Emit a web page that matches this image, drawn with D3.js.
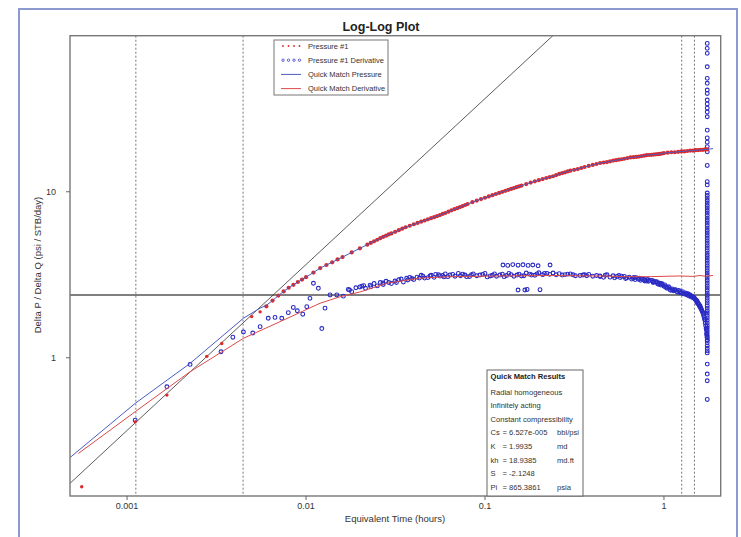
<!DOCTYPE html>
<html><head><meta charset="utf-8">
<script src="https://cdn.jsdelivr.net/npm/d3@7/dist/d3.min.js"></script>
<style>body{margin:0;background:#fff}svg{display:block}</style>
</head><body>
<svg id="c" width="741" height="537"></svg>
<script>
// ---------- data ----------
const xTicks = [0.001, 0.01, 0.1, 1];
const yTicks = [1, 10];
const xTickLabels = ["0.001", "0.01", "0.1", "1"];
const yTickLabels = ["1", "10"];
const xDomain = [0.00048, 2.075];
const yDomain = [0.147, 87.1];

// Pressure #1 (t hours, dP/dQ)
const pressure = [
  [0.000558,0.167],[0.00111,0.411],[0.00167,0.596],[0.00279,1.02],[0.00338,1.22],
  [0.00497,1.77],[0.00554,1.89],[0.006,2.04],[0.0065,2.21],[0.007,2.37],[0.0075,2.51],
  [0.008,2.64],[0.0085,2.75],[0.009,2.86],[0.0095,2.96],[0.010,3.06],[0.011,3.26],
  [0.012,3.47],[0.013,3.62],[0.014,3.76],[0.015,3.91],[0.016,4.04],[0.018,4.31],
  [0.020,4.56],[0.022,4.80],[0.024,5.03],[0.026,5.25],[0.028,5.44],[0.030,5.61],
  [0.033,5.87],[0.036,6.11],[0.040,6.37],[0.044,6.60],[0.048,6.82],[0.052,7.03],
  [0.056,7.24],[0.060,7.45],[0.065,7.73],[0.070,7.96],[0.075,8.20],[0.080,8.44],
  [0.090,8.85],[0.10,9.20],[0.11,9.53],[0.12,9.84],[0.13,10.13],[0.14,10.40],
  [0.15,10.65],[0.16,10.89],[0.18,11.35],[0.20,11.75],[0.22,12.1],[0.24,12.4],
  [0.26,12.8],[0.28,13.1],[0.30,13.4],[0.33,13.7],[0.36,14.1],[0.40,14.5],
  [0.44,14.9],[0.48,15.1],[0.52,15.4],[0.56,15.6],[0.60,15.8],[0.65,16.1],
  [0.70,16.2],[0.75,16.4],[0.80,16.6],[0.85,16.7],[0.90,16.8],[0.95,16.9],
  [1.0,17.1],[1.05,17.2],[1.1,17.3],[1.15,17.3],[1.2,17.4],[1.25,17.5],[1.3,17.5],
  [1.35,17.6],[1.4,17.7],[1.45,17.7],[1.5,17.8],[1.55,17.8],[1.6,17.9],[1.65,17.9],
  [1.7,18.0],[1.74,18.0]
];
const pressureMore = [
  [0.023,4.92],[0.025,5.14],[0.027,5.35],[0.029,5.53],[0.0315,5.74],[0.0345,5.99],
  [0.038,6.24],[0.042,6.49],[0.046,6.71],[0.050,6.93],[0.054,7.14],[0.058,7.35],
  [0.0625,7.59],[0.0675,7.85],[0.0725,8.08],[0.0775,8.32],[0.085,8.65],[0.095,9.03],
  [0.105,9.37],[0.115,9.69],[0.125,9.99],[0.135,10.27],[0.145,10.53],[0.155,10.77],
  [0.17,11.12],[0.19,11.55],[0.21,11.93],[0.23,12.25],[0.25,12.6],[0.27,12.95],
  [0.29,13.25],[0.315,13.55],[0.345,13.9],[0.38,14.3],[0.42,14.7],[0.46,15.0],
  [0.50,15.25],[0.54,15.5],[0.58,15.7],[0.625,15.95],[0.675,16.15],[0.725,16.3],
  [0.775,16.5],[0.825,16.65],[0.875,16.75],[0.925,16.85],[0.975,17.0]
];

// Pressure #1 Derivative
const derivative = [
  [0.00111,0.421],[0.00167,0.669],[0.00225,0.912],[0.00335,1.087],[0.0039,1.33],
  [0.00447,1.43],[0.00504,1.41],[0.00554,1.54],[0.00615,1.73],[0.00671,1.75],
  [0.00732,1.73],[0.00796,1.87],[0.00849,2.01],[0.00894,1.92],[0.00959,1.83],
  [0.0101,2.03],[0.01052,2.28],[0.011,2.81],[0.01172,2.62],[0.01225,1.50],
  [0.01277,1.99],[0.01362,2.39],[0.01485,2.39],[0.01616,2.35],[0.01723,2.58],
  [0.0175,2.56],[0.018,2.50],[0.019,2.64],[0.020,2.67],[0.021,2.72],[0.0215,2.62],
  [0.0228,2.74],[0.024,2.80],[0.025,2.71],[0.0269,2.82],[0.028,2.89],[0.030,2.80],
  [0.0314,2.90],[0.033,2.95],[0.035,2.86],[0.0365,3.01],[0.038,3.05],[0.040,2.96],
  [0.0417,3.06],[0.044,3.14],[0.046,3.02],[0.0493,3.11],[0.052,3.05],[0.053,3.18],
  [0.0561,3.11],[0.059,3.07],[0.060,3.20],[0.0637,3.15],[0.068,3.10],[0.071,3.22],
  [0.0773,3.15],[0.082,3.09],[0.086,3.20],[0.0937,3.15],[0.10,3.22],[0.103,3.07],
  [0.107,3.11],[0.113,3.20],[0.121,3.15],[0.128,3.08],[0.136,3.22],[0.145,3.10],
  [0.151,3.15],[0.165,3.12],[0.170,3.24],[0.178,3.19],[0.19,3.14],[0.20,3.25],
  [0.21,3.16],[0.222,3.22],[0.24,3.24],[0.25,3.16],[0.280,3.17],[0.30,3.20],
  [0.32,3.12],[0.353,3.15],[0.38,3.18],[0.40,3.10],[0.439,3.11],[0.47,3.14],
  [0.50,3.06],[0.546,3.09],[0.58,3.10],[0.62,3.03],[0.674,3.01],[0.70,3.04],
  [0.72,2.97],[0.75,2.99],[0.783,2.94],[0.80,2.90],[0.83,2.93],[0.871,2.87],
  [0.90,2.86],[0.92,2.80],[0.950,2.78],[0.98,2.76],[1.00,2.70],[1.035,2.66],
  [1.06,2.68],[1.08,2.58],[1.122,2.56],[1.15,2.56],[1.18,2.51],[1.228,2.50],
  [1.25,2.47],[1.30,2.44],[1.344,2.42],[1.38,2.40],[1.42,2.36],[1.457,2.31],
  [1.48,2.28],[1.50,2.24],[1.528,2.20],[1.55,2.14],[1.57,2.08],[1.588,2.03],
  [1.61,1.98],[1.63,1.92],[1.652,1.86],[1.67,1.78],[1.694,1.69],[1.70,1.62],
  [1.71,1.56],[1.726,1.47],[1.73,1.40],[1.74,1.33],[1.745,1.28],
  [0.126,3.62],[0.134,3.60],[0.143,3.64],[0.153,3.61],[0.163,3.63],[0.174,3.60],
  [0.185,3.62],[0.198,3.58],[0.231,3.62],[0.153,2.56],[0.167,2.56],[0.172,2.58],
  [0.203,2.57]
];
const derivativeMore = [
  [0.0205,2.70],[0.023,2.68],[0.026,2.84],[0.027,2.76],[0.029,2.84],[0.032,2.84],
  [0.034,2.98],[0.037,2.94],[0.039,3.00],[0.043,3.02],[0.045,3.10],[0.048,3.04],
  [0.050,3.14],[0.055,3.16],[0.058,3.13],[0.062,3.08],[0.066,3.18],[0.073,3.12],
  [0.075,3.19],[0.079,3.08],[0.084,3.16],[0.090,3.12],[0.097,3.18],[0.11,3.14],
  [0.116,3.10],[0.125,3.19],[0.132,3.13],[0.14,3.17],[0.155,3.19],[0.16,3.11],
  [0.182,3.15],[0.195,3.20],[0.215,3.22],[0.23,3.18],[0.26,3.21],[0.27,3.15],
  [0.29,3.19],[0.31,3.16],[0.34,3.13],[0.36,3.17],[0.37,3.12],[0.42,3.13],[0.44,3.09],
  [0.46,3.05],[0.48,3.16],[0.52,3.12],[0.53,3.03],[0.56,3.13],[0.57,3.04],[0.60,3.09],
  [0.61,3.00],[0.64,3.06],[0.66,2.98],[0.68,3.05],[0.69,2.96],[0.73,3.01],[0.74,2.93],
  [0.77,2.97],[0.78,2.90],[0.81,2.96],[0.82,2.89],[0.86,2.92],[0.87,2.84],[0.88,2.88],
  [0.91,2.87],[0.93,2.77],[0.94,2.82],[0.96,2.74],[0.97,2.80],[1.01,2.75],[1.02,2.66],
  [1.04,2.62],[1.07,2.64],[1.09,2.55],[1.11,2.60],[1.13,2.53],[1.16,2.57],[1.19,2.49],
  [1.21,2.54],[1.23,2.46],[1.27,2.50],[1.28,2.43],[1.32,2.46],[1.33,2.40],[1.36,2.43],
  [1.37,2.36],[1.40,2.39],[1.41,2.33],[1.44,2.34],[1.46,2.29],[1.47,2.31],[1.49,2.26],
  [1.51,2.22],[1.52,2.18],[1.53,2.20],[1.54,2.12],[1.56,2.11],[1.58,2.05],[1.59,2.06],
  [1.60,2.00],[1.62,1.95],[1.64,1.89],[1.66,1.83],[1.68,1.74],[1.69,1.70],[1.72,1.50],
  [1.735,1.37]
];
// late-time vertical column of the derivative
const columnT = 1.745;
const columnDP = [
  78.3,73.1,68.2,56.6,48.2,45.0,41.0,39.1,35.7,33.8,31.9,30.2,28.3,23.5,21.1,19.9,
  18.7,17.4,14.4,11.5,11.0,9.82,9.49,9.16,8.85,8.55,8.26,7.98,7.71,7.44,7.19,6.94,
  6.71,6.48,6.26,6.04,5.84,5.64,5.45,5.26,5.08,4.91,4.74,4.58,4.42,4.27,4.13,3.99,
  3.85,3.72,3.59,3.47,3.35,3.24,3.13,3.02,2.92,2.82,2.72,2.63,2.54,2.45,2.37,2.29,
  2.21,2.14,2.06,1.99,1.92,1.86,1.80,1.74,1.68,1.62,1.56,1.51,1.46,1.41,1.36,1.32,
  1.27,1.23,1.18,1.14,1.10,1.07,0.916,0.798,0.727,0.561
];

// Quick Match Pressure (model)
const qmPressureEarly = [
  [0.000481,0.251],[0.00111,0.531],[0.00225,0.925],[0.00447,1.73],[0.00554,1.99],[0.006,2.07]
];
const qmPressureEnd = [[1.88,18.2]];

// Quick Match Derivative (model)
const qmDerivative = [
  [0.000534,0.265],[0.00111,0.473],[0.00225,0.824],[0.00447,1.31],[0.00716,1.65],
  [0.01198,2.13],[0.01549,2.33],[0.020,2.49],[0.0282,2.81],[0.0434,3.02],
  [0.0637,3.08],[0.121,3.11],[0.231,3.13],[0.439,3.11],[0.60,3.08],[0.836,3.08],
  [1.228,3.11],[1.45,3.09],[1.588,3.13],[1.70,3.10],[1.88,3.13]
];

const unitSlope = [[0.00040,0.146],[0.30,109.2]];
const radialLevel = 2.39;
const timeMarkers = [0.00112, 0.00445, 1.256, 1.48];

const legendItems = [
  {label:"Pressure #1", kind:"dot", color:"#e02828"},
  {label:"Pressure #1 Derivative", kind:"circle", color:"#3a3ad0"},
  {label:"Quick Match Pressure", kind:"line", color:"#4a5cc4"},
  {label:"Quick Match Derivative", kind:"line", color:"#dd4a4a"}
];
const resultTitle = "Quick Match Results";
const resultLines = ["Radial homogeneous","Infinitely acting","Constant compressibility"];
const resultParams = [
  ["Cs","= 6.527e-005","bbl/psi"],["K","= 1.9935","md"],["kh","= 18.9385","md.ft"],
  ["S","= -2.1248",""],["Pi","= 865.3861","psia"]
];

// ---------- drawing ----------
const svg = d3.select("#c");
const L = 70, R = 720.7, T = 35.7, B = 496;
const x = d3.scaleLog().domain(xDomain).range([L, R]);
const y = d3.scaleLog().domain(yDomain).range([B, T]);
const narrow = "'Liberation Sans Narrow','Liberation Sans',Arial,sans-serif";
const sans = "'Liberation Sans',Arial,sans-serif";

svg.append("rect").attr("x",19).attr("y",9).attr("width",718).attr("height",545)
  .attr("fill","none").attr("stroke","#8b9bd0").attr("stroke-width",2);

svg.append("defs").append("clipPath").attr("id","clip")
  .append("rect").attr("x",L).attr("y",T).attr("width",R-L).attr("height",B-T);
const g = svg.append("g").attr("clip-path","url(#clip)");

g.selectAll("line.tm").data(timeMarkers).join("line")
  .attr("x1",d=>x(d)).attr("x2",d=>x(d)).attr("y1",T).attr("y2",B)
  .attr("stroke","#777").attr("stroke-width",1).attr("stroke-dasharray","2,2");

g.append("line").attr("x1",L).attr("x2",R).attr("y1",y(radialLevel)).attr("y2",y(radialLevel))
  .attr("stroke","#555").attr("stroke-width",1.4);

const lineGen = d3.line().x(d=>x(d[0])).y(d=>y(d[1]));
g.append("path").attr("d",lineGen(unitSlope)).attr("fill","none")
  .attr("stroke","#333").attr("stroke-width",0.8);

const derAll = derivative.concat(derivativeMore, columnDP.map(v=>[columnT,v]));
g.selectAll("circle.der").data(derAll).join("circle")
  .attr("cx",d=>x(d[0])).attr("cy",d=>y(d[1])).attr("r",1.9)
  .attr("fill","none").attr("stroke","#2a2ac4").attr("stroke-width",1.1);

const presAll = pressure.concat(pressureMore).sort((a,b)=>a[0]-b[0]);
g.selectAll("circle.pr").data(presAll).join("circle")
  .attr("cx",d=>x(d[0])).attr("cy",d=>y(d[1])).attr("r",d=>d[0]<0.006?1.7:2.1)
  .attr("fill","#e02828");

g.append("path").attr("d",lineGen(qmDerivative)).attr("fill","none")
  .attr("stroke","#dd4a4a").attr("stroke-width",1);

const qmPressure = qmPressureEarly.concat(presAll.filter(d=>d[0]>0.0062), qmPressureEnd);
g.append("path").attr("d",lineGen(qmPressure)).attr("fill","none")
  .attr("stroke","#4a5cc4").attr("stroke-width",1);

svg.append("rect").attr("x",L).attr("y",T).attr("width",R-L).attr("height",B-T)
  .attr("fill","none").attr("stroke","#777").attr("stroke-width",1.4);

svg.selectAll("line.xt").data(xTicks).join("line")
  .attr("x1",d=>x(d)).attr("x2",d=>x(d)).attr("y1",B).attr("y2",B+4)
  .attr("stroke","#666").attr("stroke-width",1);
svg.selectAll("text.xt").data(xTicks).join("text")
  .attr("x",d=>x(d)).attr("y",B+13).attr("text-anchor","middle")
  .attr("font-family",sans).attr("font-size",9).attr("fill","#333")
  .text((d,i)=>xTickLabels[i]);
svg.selectAll("line.yt").data(yTicks).join("line")
  .attr("x1",L-4).attr("x2",L).attr("y1",d=>y(d)).attr("y2",d=>y(d))
  .attr("stroke","#666").attr("stroke-width",1);
svg.selectAll("text.yt").data(yTicks).join("text")
  .attr("x",56).attr("y",d=>y(d)+3.5).attr("text-anchor","end")
  .attr("font-family",sans).attr("font-size",9).attr("fill","#333")
  .text((d,i)=>yTickLabels[i]);

svg.append("text").attr("x",381).attr("y",31).attr("text-anchor","middle")
  .attr("font-family",narrow).attr("font-weight","bold").attr("font-size",12.5).attr("fill","#222")
  .text("Log-Log Plot");
svg.append("text").attr("x",395).attr("y",522).attr("text-anchor","middle")
  .attr("font-family",sans).attr("font-size",9.5).attr("fill","#333")
  .text("Equivalent Time (hours)");
svg.append("text").attr("transform","translate(41,265) rotate(-90)").attr("text-anchor","middle")
  .attr("font-family",sans).attr("font-size",9.5).attr("fill","#333")
  .text("Delta P / Delta Q (psi / STB/day)");

const lg = svg.append("g");
lg.append("rect").attr("x",274).attr("y",40).attr("width",114).attr("height",55)
  .attr("fill","#fff").attr("stroke","#777").attr("stroke-width",1);
legendItems.forEach((it,i)=>{
  const yy = 46 + i*14.2;
  if(it.kind==="line"){
    lg.append("line").attr("x1",281).attr("x2",301).attr("y1",yy).attr("y2",yy)
      .attr("stroke",it.color).attr("stroke-width",1);
  } else {
    [283,288.5,294,299.5].forEach(cx=>{
      const c = lg.append("circle").attr("cx",cx).attr("cy",yy);
      if(it.kind==="dot") c.attr("r",0.9).attr("fill",it.color);
      else c.attr("r",1.2).attr("fill","none").attr("stroke",it.color).attr("stroke-width",0.8);
    });
  }
  lg.append("text").attr("x",308).attr("y",yy+2.6)
    .attr("font-family",narrow).attr("font-size",7.5).attr("fill","#333").text(it.label);
});

const rb = svg.append("g");
rb.append("rect").attr("x",487).attr("y",370).attr("width",96).attr("height",126)
  .attr("fill","#fff").attr("stroke","#666").attr("stroke-width",1);
rb.append("text").attr("x",490.5).attr("y",379).attr("font-family",narrow).attr("font-weight","bold")
  .attr("font-size",7.6).attr("fill","#222").text(resultTitle);
resultLines.forEach((s,i)=>{
  rb.append("text").attr("x",490.5).attr("y",394.5+i*13.6).attr("font-family",narrow)
    .attr("font-size",7.6).attr("fill","#333").text(s);
});
resultParams.forEach((p,i)=>{
  const yy = 435.3 + i*13.6;
  rb.append("text").attr("x",490.5).attr("y",yy).attr("font-family",narrow).attr("font-size",7.6).attr("fill","#333").text(p[0]);
  rb.append("text").attr("x",502.5).attr("y",yy).attr("font-family",narrow).attr("font-size",7.6).attr("fill","#333").text(p[1]);
  rb.append("text").attr("x",557).attr("y",yy).attr("font-family",narrow).attr("font-size",7.6).attr("fill","#333").text(p[2]);
});
</script>
</body></html>
